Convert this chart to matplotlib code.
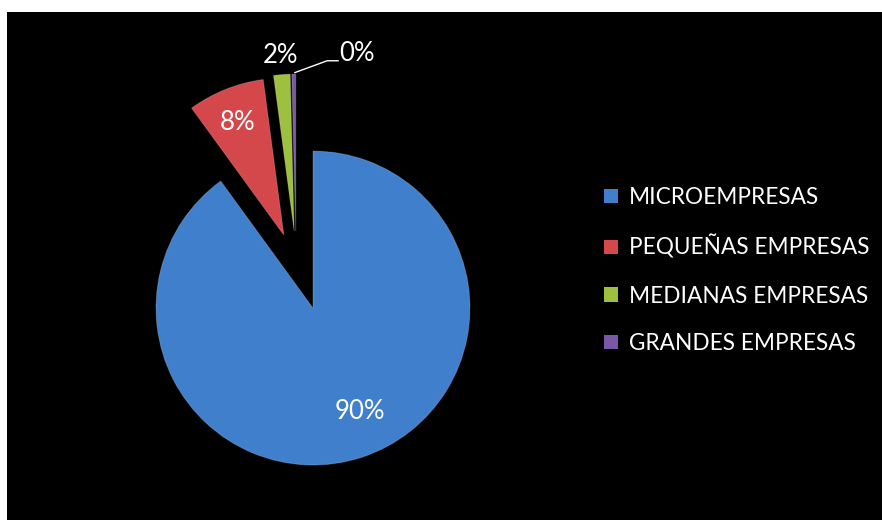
import matplotlib.pyplot as plt
from matplotlib.patches import Rectangle

categories = ['MICROEMPRESAS', 'PEQUEÑAS EMPRESAS', 'MEDIANAS EMPRESAS', 'GRANDES EMPRESAS']
shares = [90.0, 7.9, 1.7, 0.4]
colors = ['#3F7FCC', '#D4474A', '#9DC13F', '#7A58A8']

fig = plt.figure(figsize=(8.82, 5.20), dpi=100, facecolor='white')
# black chart area
fig.patches.append(Rectangle((7 / 882, 0), 875 / 882, 508 / 520,
                             transform=fig.transFigure, facecolor='black',
                             edgecolor='none', zorder=-5))

# pie centre at (313, 308) px, radius 157 px
ax = fig.add_axes([61.8 / 882, 0, 502.4 / 882, 510.25 / 520])
ax.set_zorder(2)
ax.patch.set_visible(False)
wedges, _ = ax.pie(shares, colors=colors, startangle=90, counterclock=False,
                   explode=[0, 0.5, 0.5, 0.5],
                   wedgeprops=dict(linewidth=0.8, edgecolor='#FFFFFF30'))
# green / purple slices pulled out up-left like the red one
wedges[2].set_center((-0.12, 0.49))
wedges[3].set_center((-0.11, 0.49))
ax.set_xlim(-1.6, 1.6)
ax.set_ylim(-1.35, 1.9)
ax.set_aspect('auto')
ax.axis('off')

font = 'Lato'
pct = [f'{round(s)}%' for s in shares]
lbl_pos = [(0.30, -0.66), (-0.48, 1.18), (-0.21, 1.61), (0.28, 1.62)]
for t, (x, y) in zip(pct, lbl_pos):
    ax.text(x, y, t, color='white', fontsize=18.5, family=font,
            ha='center', va='center')
# leader line to the 0% label
ax.plot([-0.115, 0.09, 0.16], [1.50, 1.575, 1.575], color='white', lw=1)

handles = [Rectangle((0, 0), 1, 1, facecolor=c, edgecolor='none') for c in colors]
leg = fig.legend(handles, categories, loc='upper left',
                 bbox_to_anchor=(604 / 882, 1 - 187 / 520),
                 frameon=False, labelcolor='white',
                 prop={'family': font, 'size': 16.3},
                 handlelength=0.6, handleheight=0.6, handletextpad=0.5,
                 labelspacing=1.18, borderaxespad=0, borderpad=0)

fig.savefig('out.png', dpi=100, facecolor=fig.get_facecolor())
